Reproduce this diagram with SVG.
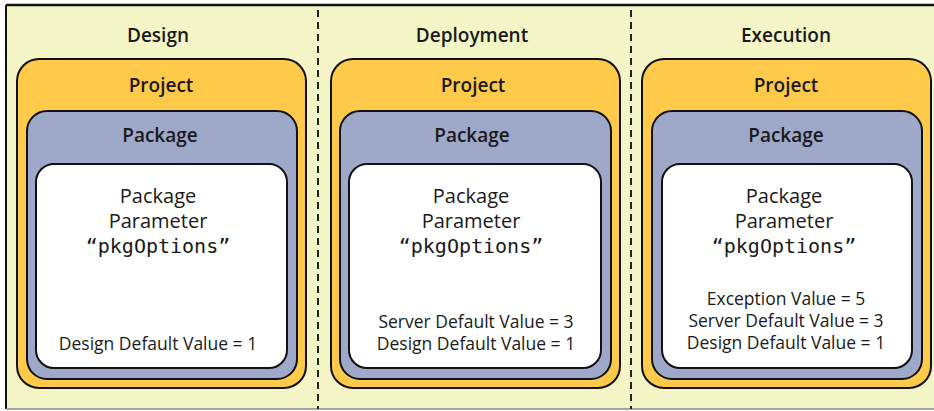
<svg xmlns="http://www.w3.org/2000/svg" width="934" height="411" viewBox="0 0 934 411">
<style>
.bg{fill:#F3F5C6;stroke:none}
.proj{fill:#FFC94A;stroke:#111;stroke-width:2}
.pkg{fill:#9EA8C8;stroke:#111;stroke-width:2}
.par{fill:#fff;stroke:#111;stroke-width:2}
.sep{stroke:#222;stroke-width:2;stroke-dasharray:7 5;fill:none}
text{font-family:"Open Sans","Noto Sans","DejaVu Sans",sans-serif;fill:#1a1a1a;text-anchor:middle}
.h{font-size:19px;font-weight:600}
.t{font-size:20px}
.m{font-family:"DejaVu Sans Mono","Liberation Mono",monospace;font-size:20px}
.v{font-size:17.5px}
</style>
<rect class="bg" x="6" y="5" width="932" height="404"/>
<line x1="6" y1="5" x2="934" y2="5" stroke="#111" stroke-width="2.5"/>
<line x1="6" y1="5" x2="6" y2="409" stroke="#111" stroke-width="2"/>
<line x1="6" y1="409" x2="934" y2="409" stroke="#888" stroke-width="1.5"/>
<g id="connectors">
<line class="sep" x1="318" y1="10" x2="318" y2="409"/>
<line class="sep" x1="631" y1="10" x2="631" y2="409"/>
</g>
<g id="design">
<text class="h" x="158" y="42">Design</text>
<rect class="proj" x="17" y="59" width="289" height="329" rx="22"/>
<text class="h" x="161" y="92">Project</text>
<rect class="pkg" x="27" y="111" width="270" height="268" rx="20"/>
<text class="h" x="160" y="142">Package</text>
<rect class="par" x="36" y="164" width="251" height="204" rx="18"/>
<text class="t" x="158" y="203">Package</text>
<text class="t" x="158" y="228">Parameter</text>
<text class="m" x="158" y="253">“pkgOptions”</text>
<text class="v" x="158" y="350">Design Default Value = 1</text>
</g>
<g id="deployment">
<text class="h" x="472" y="42">Deployment</text>
<rect class="proj" x="331" y="59" width="289" height="329" rx="22"/>
<text class="h" x="473" y="92">Project</text>
<rect class="pkg" x="340" y="111" width="271" height="268" rx="20"/>
<text class="h" x="472" y="142">Package</text>
<rect class="par" x="349" y="164" width="252" height="204" rx="18"/>
<text class="t" x="471" y="203">Package</text>
<text class="t" x="471" y="228">Parameter</text>
<text class="m" x="471" y="253">“pkgOptions”</text>
<text class="v" x="476" y="328">Server Default Value = 3</text>
<text class="v" x="476" y="350">Design Default Value = 1</text>
</g>
<g id="execution">
<text class="h" x="786" y="42">Execution</text>
<rect class="proj" x="642" y="59" width="289" height="329" rx="22"/>
<text class="h" x="786" y="92">Project</text>
<rect class="pkg" x="652" y="111" width="270" height="268" rx="20"/>
<text class="h" x="786" y="142">Package</text>
<rect class="par" x="662" y="164" width="250" height="204" rx="18"/>
<text class="t" x="784" y="203">Package</text>
<text class="t" x="784" y="228">Parameter</text>
<text class="m" x="784" y="253">“pkgOptions”</text>
<text class="v" x="786" y="305">Exception Value = 5</text>
<text class="v" x="786" y="327">Server Default Value = 3</text>
<text class="v" x="786" y="349">Design Default Value = 1</text>
</g>
</svg>
